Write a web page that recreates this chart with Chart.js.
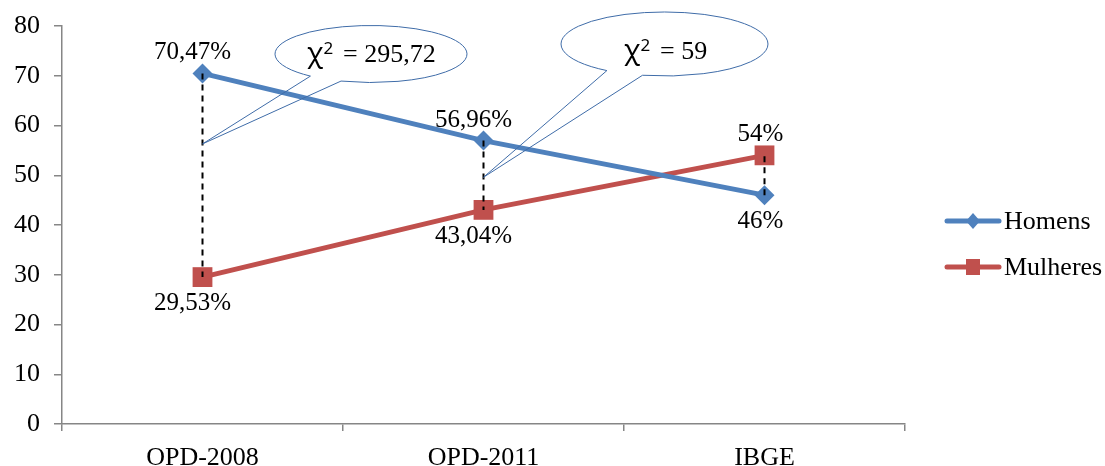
<!DOCTYPE html>
<html><head><meta charset="utf-8">
<script src="https://cdn.jsdelivr.net/npm/chart.js@4.4.1/dist/chart.umd.min.js"></script>
<style>html,body{margin:0;padding:0;background:#fff;}#wrap{width:1105px;height:466px;position:relative;}</style>
</head><body><div id="wrap"><canvas id="c" width="1105" height="466"></canvas></div>
<script>
const categories = ['OPD-2008', 'OPD-2011', 'IBGE'];
const homens = [70.47, 56.96, 46];
const mulheres = [29.53, 43.04, 54];
const homensLabels = ['70,47%', '56,96%', '46%'];
const mulheresLabels = ['29,53%', '43,04%', '54%'];
const seriesNames = ['Homens', 'Mulheres'];
const chiValues = ['295,72', '59'];
const chiTipValues = [56.3, 49.6];

const BLUE = '#4F81BD', RED = '#C0504D', AXIS = '#868686';
const SERIF = '"Liberation Serif","Times New Roman",serif';

const labelPos = [['above', 'above', 'below'], ['below', 'below', 'above']];

const overlay = {
  id: 'overlay',
  afterDatasetsDraw(chart) {
    const ctx = chart.ctx;
    const xs = chart.scales.x, ys = chart.scales.y;
    // dashed connectors
    ctx.save();
    ctx.strokeStyle = '#000';
    ctx.lineWidth = 2;
    ctx.setLineDash([6, 5]);
    categories.forEach((c, i) => {
      const x = xs.getPixelForValue(i);
      ctx.beginPath();
      ctx.moveTo(x, ys.getPixelForValue(homens[i]));
      ctx.lineTo(x, ys.getPixelForValue(mulheres[i]));
      ctx.stroke();
    });
    ctx.restore();

    // data labels
    ctx.save();
    ctx.font = '25px ' + SERIF;
    ctx.fillStyle = '#000';
    ctx.textAlign = 'center';
    ctx.textBaseline = 'alphabetic';
    [[homens, homensLabels], [mulheres, mulheresLabels]].forEach((pair, d) => {
      pair[0].forEach((v, i) => {
        const x = xs.getPixelForValue(i) - (i === 2 ? 4 : 10);
        const y = ys.getPixelForValue(v);
        const pos = labelPos[d][i];
        ctx.fillText(pair[1][i], x, pos === 'above' ? y - 14 : y + 33);
      });
    });
    ctx.restore();

    // callouts
    const callouts = [
      {cx: 371, cy: 54, rx: 96, ry: 28.5, p1: [308, 77], p2: [340, 82], tx: 307, ty: 62},
      {cx: 664.5, cy: 44, rx: 103.5, ry: 32, p1: [606, 71], p2: [642, 76], tx: 624, ty: 59}
    ];
    callouts.forEach((co, k) => {
      const tipX = xs.getPixelForValue(k);
      const tipY = ys.getPixelForValue(chiTipValues[k]);
      const a1 = Math.atan2((co.p1[1] - co.cy) / co.ry, (co.p1[0] - co.cx) / co.rx);
      const a2 = Math.atan2((co.p2[1] - co.cy) / co.ry, (co.p2[0] - co.cx) / co.rx);
      ctx.save();
      ctx.beginPath();
      ctx.ellipse(co.cx, co.cy, co.rx, co.ry, 0, a1, a2, false);
      ctx.lineTo(tipX, tipY);
      ctx.closePath();
      ctx.strokeStyle = '#3F6CA8';
      ctx.lineWidth = 1;
      ctx.stroke();
      // text
      ctx.fillStyle = '#000';
      ctx.textAlign = 'left';
      ctx.textBaseline = 'alphabetic';
      ctx.font = '27px "Noto Sans","DejaVu Sans",sans-serif';
      ctx.fillText('\u03C7', co.tx, co.ty);
      const w = ctx.measureText('\u03C7').width;
      ctx.font = '17px "Noto Sans","DejaVu Sans",sans-serif';
      ctx.fillText('2', co.tx + w + 0.5, co.ty - 8);
      ctx.font = '26px ' + SERIF;
      ctx.fillText('= ' + chiValues[k], co.tx + 36, co.ty);
      ctx.restore();
    });

    // legend
    ctx.save();
    const items = [[seriesNames[0], BLUE, 'diamond', 221], [seriesNames[1], RED, 'square', 267]];
    items.forEach(it => {
      const y = it[3];
      ctx.strokeStyle = it[1];
      ctx.lineWidth = 5;
      ctx.lineCap = 'round';
      ctx.beginPath();
      ctx.moveTo(947, y);
      ctx.lineTo(999, y);
      ctx.stroke();
      ctx.fillStyle = it[1];
      ctx.beginPath();
      if (it[2] === 'diamond') {
        ctx.moveTo(973, y - 8); ctx.lineTo(980, y); ctx.lineTo(973, y + 8); ctx.lineTo(966, y);
      } else {
        ctx.rect(966, y - 8, 14, 16);
      }
      ctx.closePath();
      ctx.fill();
      ctx.fillStyle = '#000';
      ctx.font = '26px ' + SERIF;
      ctx.textAlign = 'left';
      ctx.textBaseline = 'middle';
      ctx.fillText(it[0], 1004, y + 1);
    });
    ctx.restore();
  }
};

new Chart(document.getElementById('c'), {
  type: 'line',
  data: {
    labels: categories,
    datasets: [
      {label: seriesNames[0], data: homens, borderColor: BLUE, backgroundColor: BLUE, borderWidth: 5,
       pointStyle: 'rectRot', pointRadius: 10, pointBorderWidth: 0, pointHoverRadius: 10},
      {label: seriesNames[1], data: mulheres, borderColor: RED, backgroundColor: RED, borderWidth: 5,
       pointStyle: 'rect', pointRadius: 14, pointBorderWidth: 0, pointHoverRadius: 14}
    ]
  },
  options: {
    responsive: false,
    animation: false,
    events: [],
    layout: {padding: {left: 0, right: 200, top: 26, bottom: 0}},
    plugins: {legend: {display: false}, tooltip: {enabled: false}},
    scales: {
      x: {
        offset: true,
        grid: {display: true, offset: true, drawOnChartArea: false, drawTicks: true, tickLength: 7, color: AXIS, lineWidth: 1.5},
        border: {display: true, color: AXIS, width: 1.5},
        ticks: {color: '#000', font: {family: SERIF, size: 26}, padding: 12, maxRotation: 0},
        afterFit(s) { s.height = 42; }
      },
      y: {
        min: 0, max: 80,
        ticks: {stepSize: 10, color: '#000', font: {family: SERIF, size: 26, lineHeight: 0.8}, padding: 14},
        grid: {display: true, drawOnChartArea: false, drawTicks: true, tickLength: 8, color: AXIS, lineWidth: 1.5},
        border: {display: true, color: AXIS, width: 1.5},
        afterFit(s) { s.width = 62; }
      }
    }
  },
  plugins: [overlay]
});
</script></body></html>
